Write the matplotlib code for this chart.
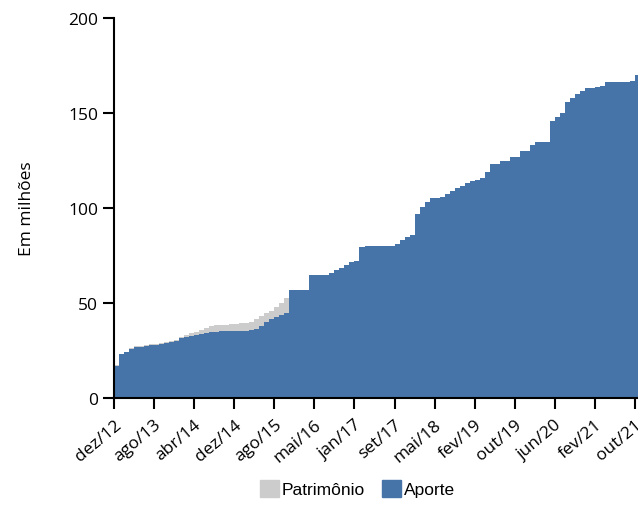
import matplotlib.pyplot as plt
from matplotlib.patches import Patch
import numpy as np

# valores mensais (em milhões), um por mês mostrado no eixo
aporte = [17, 23, 24, 26, 27, 27, 27.5, 28, 28, 28.5,
          29, 29.5, 30, 31.5, 32, 32.5, 33, 33.5, 34, 34.5,
          35, 35.3, 35.5, 35.5, 35.5, 35.5, 35.5, 35.6, 36.5, 38,
          40, 41.5, 42.5, 43.5, 44.5, 57, 57, 57, 57, 65,
          65, 65, 65, 66, 67.4, 68.4, 70, 71.7, 72, 79.6,
          80, 80, 80, 80, 80, 80, 81, 83, 85, 86,
          97, 100.5, 103, 105.3, 105.5, 106, 107.3, 109, 110.5, 111.7,
          113, 114, 115, 116, 119, 123, 123, 125, 125, 127,
          127, 130, 130, 133, 134.5, 134.5, 134.5, 146, 148, 150,
          156, 158, 160, 161.7, 163, 163, 163.5, 164.4, 166.5, 166.5,
          166.5, 166.5, 166.5, 167, 170]
patrimonio = [17.3, 23.3, 24.3, 26.3, 27.3, 27.3, 27.8, 28.3, 28.3, 28.8,
              29.3, 29.8, 30.4, 32, 33, 34, 35, 36, 37, 38,
              38.4, 38.5, 38.6, 38.8, 39, 39.3, 39.6, 40, 41.5, 43,
              45, 46, 48, 50, 52.6, 52.6]

tick_labels = ["dez/12", "ago/13", "abr/14", "dez/14", "ago/15", "mai/16", "jan/17",
               "set/17", "mai/18", "fev/19", "out/19", "jun/20", "fev/21", "out/21"]
tick_step = 8

azul = "#4674a8"
cinza = "#cccccc"

fig = plt.figure(figsize=(6.38, 5.10), dpi=100)
ax = fig.add_axes([114/638, 111/510, 1 - 114/638, 380/510])

x_ap = np.arange(len(aporte) + 1)
y_ap = aporte + [aporte[-1]]
x_pt = np.arange(len(patrimonio))

ax.fill_between(x_pt, patrimonio, step="post", color=cinza, linewidth=0)
ax.fill_between(x_ap, y_ap, step="post", color=azul, linewidth=0)

ax.set_xlim(0, (638 - 114) / 5.01)
ax.set_ylim(0, 200)
ax.set_yticks([0, 50, 100, 150, 200])
ax.set_xticks(np.arange(len(tick_labels)) * tick_step)
ax.set_xticklabels(tick_labels, rotation=40, ha="right", rotation_mode="anchor")

for s in ["top", "right"]:
    ax.spines[s].set_visible(False)
for s in ["left", "bottom"]:
    ax.spines[s].set_linewidth(1.5)
ax.tick_params(width=1.5, length=8, labelsize=12.5)
ax.tick_params(axis="x", pad=5)
for lab in ax.get_xticklabels() + ax.get_yticklabels():
    lab.set_fontfamily("Open Sans")

ax.set_ylabel("Em milhões", fontsize=12.5, fontfamily="Open Sans", labelpad=24)

handles = [Patch(color=cinza, label="Patrimônio"), Patch(color=azul, label="Aporte")]
fig.legend(handles=handles, loc="lower center", ncol=2, frameon=False,
           bbox_to_anchor=(0.56, -0.008), handlelength=1.1, handleheight=1.1,
           handletextpad=0.15, columnspacing=1.0,
           prop={"family": "Liberation Sans", "size": 12.5})

fig.savefig("out.png", dpi=100)
